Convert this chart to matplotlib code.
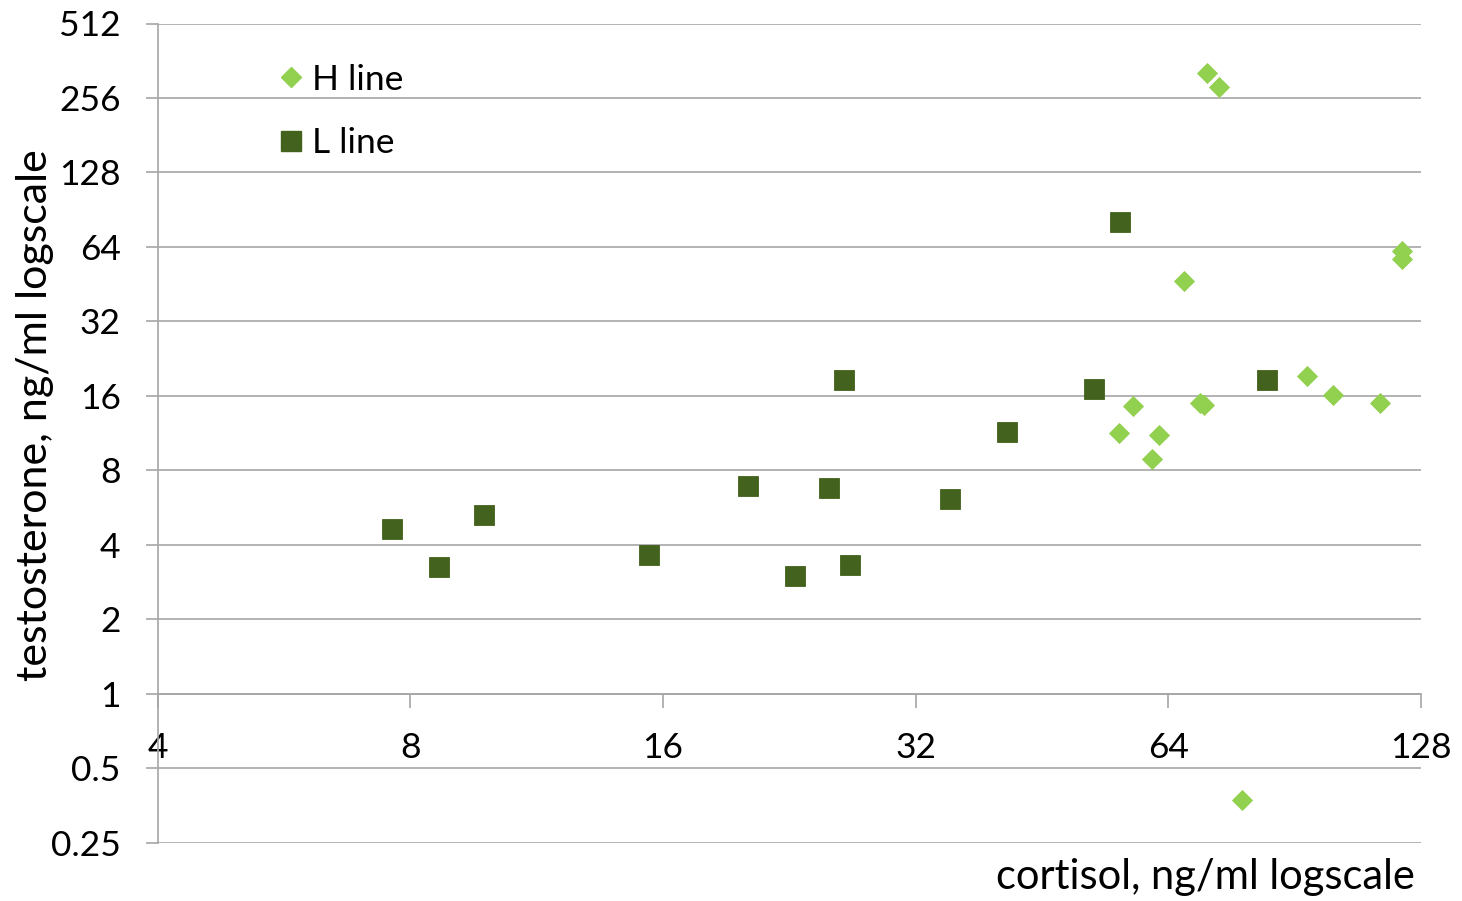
import matplotlib
matplotlib.use("Agg")
import matplotlib.pyplot as plt
from matplotlib.ticker import FixedLocator, FixedFormatter, NullLocator
from matplotlib.lines import Line2D

plt.rcParams['font.family'] = ['Lato', 'DejaVu Sans']

# H line: cortisol (x) and testosterone (y), ng/ml
h_cortisol = [71.1, 73.6, 121.5, 121.5, 66.8, 58.1, 55.9, 62.4, 61.2,
              69.8, 70.6, 93.7, 100.6, 114.4, 78.4]
h_testosterone = [322, 283, 61.7, 57.0, 46.7, 14.5, 11.3, 11.1, 8.9,
                  15.0, 14.7, 19.3, 16.1, 14.9, 0.371]

# L line: cortisol (x) and testosterone (y), ng/ml
l_cortisol = [7.62, 8.65, 9.80, 15.4, 20.2, 23.0, 25.2, 26.3, 26.7,
              35.2, 41.1, 52.2, 56.1, 83.9]
l_testosterone = [4.63, 3.24, 5.27, 3.63, 6.89, 3.00, 6.80, 18.5, 3.32,
                  6.14, 11.4, 17.1, 80.4, 18.5]

x_ticks = [4, 8, 16, 32, 64, 128]
x_tick_labels = ['4', '8', '16', '32', '64', '128']
y_ticks = [0.25, 0.5, 1, 2, 4, 8, 16, 32, 64, 128, 256, 512]
y_tick_labels = ['0.25', '0.5', '1', '2', '4', '8', '16', '32', '64',
                 '128', '256', '512']

H_COLOR = '#92d050'
L_COLOR = '#43621d'
GRID = '#a6a6a6'
W, H = 1462, 901

fig = plt.figure(figsize=(W / 100, H / 100), dpi=100)
ax = fig.add_axes([157.5 / W, (H - 842.5) / H, (1421 - 157.5) / W, (842.5 - 23.5) / H])

ax.set_xscale('log', base=2)
ax.set_yscale('log', base=2)
ax.set_xlim(4, 128)
ax.set_ylim(0.25, 512)

ax.xaxis.set_major_locator(FixedLocator(x_ticks))
ax.xaxis.set_major_formatter(FixedFormatter(x_tick_labels))
ax.yaxis.set_major_locator(FixedLocator(y_ticks))
ax.yaxis.set_major_formatter(FixedFormatter(y_tick_labels))
ax.xaxis.set_minor_locator(NullLocator())
ax.yaxis.set_minor_locator(NullLocator())

ax.grid(axis='y', color=GRID, linewidth=1.2)
ax.set_axisbelow(True)

for side in ('top', 'right'):
    ax.spines[side].set_visible(False)
ax.spines['left'].set_color(GRID)
ax.spines['left'].set_linewidth(1.2)
ax.spines['bottom'].set_position(('data', 1))
ax.spines['bottom'].set_color(GRID)
ax.spines['bottom'].set_linewidth(1.2)

ax.tick_params(axis='x', direction='out', length=10, width=1.2, color=GRID,
               labelsize=25.5, pad=17.5, labelcolor='black')
ax.tick_params(axis='y', direction='out', length=8.6, width=1.2, color=GRID,
               labelsize=25.5, pad=18, labelcolor='black')

ax.plot(l_cortisol, l_testosterone, linestyle='none', marker='s', markersize=14.5,
        color=L_COLOR, markeredgecolor=L_COLOR, markeredgewidth=0.6, zorder=3)
ax.plot(h_cortisol, h_testosterone, linestyle='none', marker='D', markersize=10,
        color=H_COLOR, markeredgecolor=H_COLOR, markeredgewidth=0.6, zorder=4)

fig.text(35 / W, 1 - 415 / H, 'testosterone, ng/ml logscale', rotation=90,
         ha='center', va='center', fontsize=31)
fig.text(1415 / W, 1 - 877 / H, 'cortisol, ng/ml logscale',
         ha='right', va='center', fontsize=30)

handles = [
    Line2D([], [], linestyle='none', marker='D', markersize=10, color=H_COLOR),
    Line2D([], [], linestyle='none', marker='s', markersize=14.5, color=L_COLOR),
]
ax.legend(handles, ['H line', 'L line'], loc='upper left',
          bbox_to_anchor=(0.0834, 0.968), frameon=False, fontsize=25.5,
          handlelength=0.8, handletextpad=0.19, labelspacing=0.89,
          borderaxespad=0)

fig.savefig('out.png', dpi=100)
